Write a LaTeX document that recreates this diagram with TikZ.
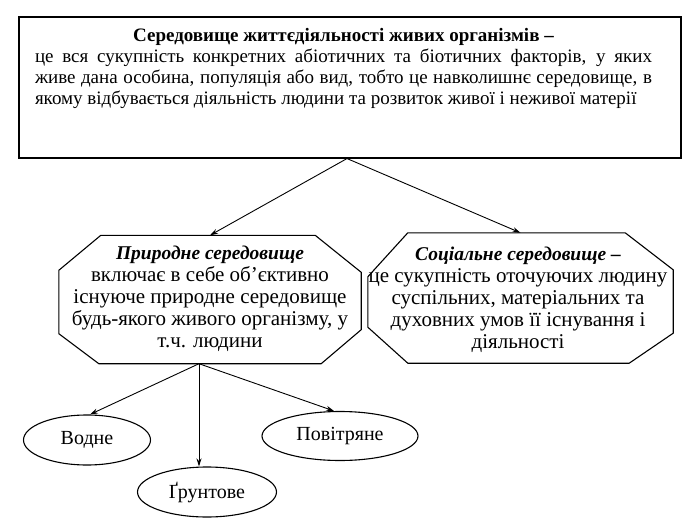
\documentclass[tikz,border=0pt]{standalone}
\usepackage{fontspec}
\setmainfont{Liberation Serif}
\usetikzlibrary{arrows.meta,shapes.geometric}
\newcommand{\octhead}[1]{{\fontsize{19.5}{22}\selectfont\bfseries\itshape #1}}
\begin{document}
\begin{tikzpicture}[x=1pt,y=-1pt,
  every node/.style={font=\fontsize{19}{21}\selectfont},
  octtext/.style={align=center,font=\fontsize{21}{22}\selectfont},
  conn/.style={line width=0.9pt,-{Stealth[length=8pt,width=5pt]}},
  topbox/.style={draw,line width=1.1pt,minimum width=662pt,minimum height=141pt,inner sep=0pt},
  octarea/.style={minimum width=#1,minimum height=128pt,inner sep=0pt},
  octline/.style={line width=1.1pt},
  ell/.style={draw,ellipse,line width=1.1pt,inner sep=0pt,font=\fontsize{20}{22}\selectfont}
]
\useasboundingbox (0,0) rectangle (696,527);
\node[topbox] (T) at (350,87.5) {};
\node[text width=617pt,align=justify] (Tt) at (343.5,68)
 {\makebox[\linewidth]{\bfseries Середовище життєдіяльності живих організмів –}\par
  це вся сукупність конкретних абіотичних та біотичних факторів, у яких\linebreak
  живе дана особина, популяція або вид, тобто це навколишнє середовище, в\linebreak
  якому відбувається діяльність людини та розвиток живої і неживої матерії};
% left octagon
\node[octarea=302pt] (L) at (210,299.5) {};
\draw[octline] ([xshift=42pt]L.north west) -- ([xshift=-46pt]L.north east)
  -- ([yshift=-37pt]L.north east) -- ([yshift=34pt]L.south east)
  -- ([xshift=-40pt]L.south east) -- ([xshift=40pt]L.south west)
  -- ([yshift=30pt]L.south west) -- ([yshift=-35pt]L.north west) -- cycle;
\node[octtext] (Lt) at (210,299)
 {\octhead{Природне середовище}\\
  включає в себе об’єктивно\\
  існуюче природне середовище\\
  будь-якого живого організму, у\\
  т.ч. людини};
% right octagon
\node[octarea=305pt,minimum height=130pt] (R) at (520.5,298) {};
\draw[octline] ([xshift=40pt]R.north west) -- ([xshift=-48pt]R.north east)
  -- ([yshift=-37pt]R.north east) -- ([yshift=30pt]R.south east)
  -- ([xshift=-44pt]R.south east) -- ([xshift=40pt]R.south west)
  -- ([yshift=36pt]R.south west) -- ([yshift=-44pt]R.north west) -- cycle;
\node[octtext] (Rt) at (518,300)
 {\octhead{Соціальне середовище –}\\
  це сукупність оточуючих людину\\
  суспільних, матеріальних та\\
  духовних умов її існування і\\
  діяльності};
% ellipses
\node[ell,minimum width=127pt,minimum height=50pt] (W) at (87,440) {Водне};
\node[ell,minimum width=139pt,minimum height=50pt] (G) at (207,492) {Ґрунтове};
\node[ell,minimum width=156pt,minimum height=49pt] (P) at (340,436) {Повітряне};
% connectors
\coordinate (ts) at ([xshift=-3pt]T.south);
\draw[conn] (ts) -- (L.north);
\draw[conn] (ts) -- (R.north);
\coordinate (ls) at ([xshift=-11pt]L.south);
\draw[conn] (ls) -- ([xshift=3pt]W.north);
\draw[conn] (ls) -- (ls |- G.north);
\draw[conn] (ls) -- ([xshift=-6pt]P.north);
\end{tikzpicture}
\end{document}
